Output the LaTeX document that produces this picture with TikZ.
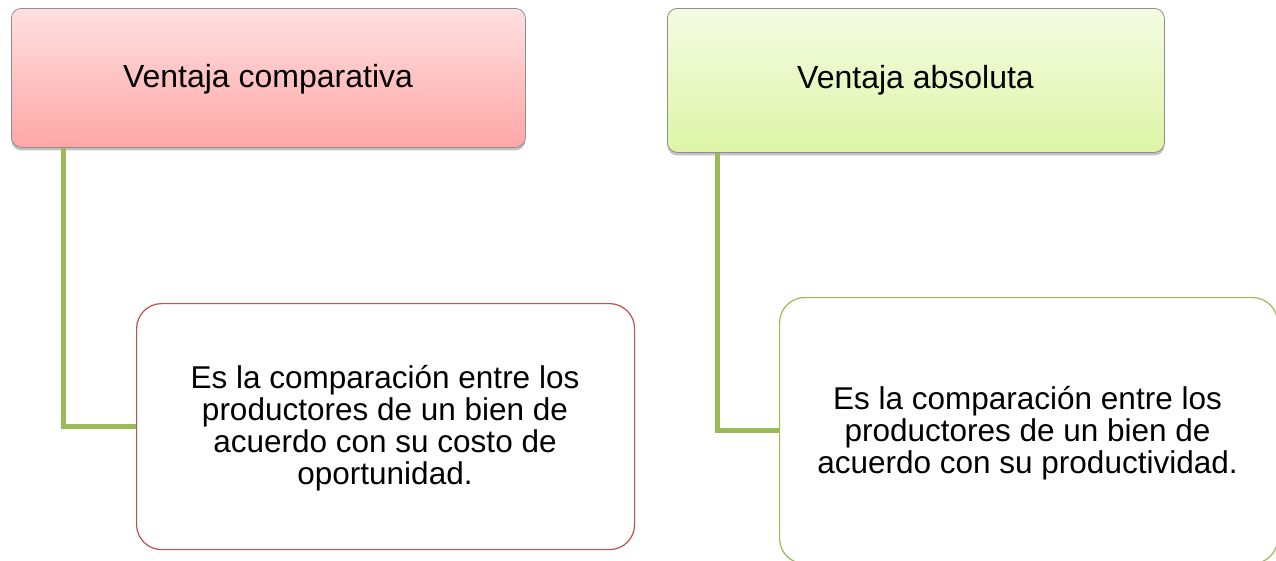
\documentclass[tikz,border=0pt]{standalone}
\usepackage{fontspec}
\setmainfont{Liberation Sans}
\usetikzlibrary{shadows}
\definecolor{conncol}{HTML}{9BBB59}
\definecolor{redtop}{HTML}{FFE0E0}
\definecolor{redbot}{HTML}{FFA6A6}
\definecolor{grntop}{HTML}{F5FBE3}
\definecolor{grnbot}{HTML}{DDF5A6}
\definecolor{redline}{HTML}{C0504D}
\definecolor{headline}{HTML}{8E8E8E}
\tikzset{
  head/.style={draw=headline, line width=0.8pt, rounded corners=10pt, anchor=north west,
    inner sep=0pt,
    drop shadow={shadow xshift=0pt, shadow yshift=-3pt, opacity=0.35, fill=black!70}},
  headtext/.style={anchor=base, inner sep=0pt, font=\fontsize{32}{36}\selectfont},
  body/.style={line width=1.2pt, rounded corners=25pt, anchor=north west, fill=white, inner sep=0pt},
  bodytext/.style={align=center, inner sep=0pt, font=\fontsize{31.5}{32}\selectfont},
  conn/.style={draw=conncol, line width=5pt}
}
\begin{document}
\begin{tikzpicture}[x=1pt,y=1pt]
\useasboundingbox (0,0) rectangle (1276,-560);
\clip (0,0) rectangle (1276,-560);
\node[head, top color=redtop, bottom color=redbot, minimum width=514pt, minimum height=139pt] (b1) at (11,-8) {};
\node[headtext] (h1) at (268,-87) {Ventaja comparativa};
\node[head, top color=grntop, bottom color=grnbot, minimum width=497pt, minimum height=144pt] (b2) at (667,-8) {};
\node[headtext] (h2) at (915.5,-88) {Ventaja absoluta};
\node[body, draw=redline, minimum width=498pt, minimum height=246pt] (b3) at (136,-303) {};
\node[body, draw=conncol, minimum width=498pt, minimum height=266pt] (b4) at (779,-297) {};
\draw[conn] ([xshift=52pt]b1.south west) |- (b3.west);
\draw[conn] ([xshift=50pt]b2.south west) |- (b4.west);
\node[bodytext] (t3) at (385,-428) {Es la comparación entre los\\productores de un bien de\\acuerdo con su costo de\\oportunidad.};
\node[bodytext] (t4) at (1027.5,-433) {Es la comparación entre los\\productores de un bien de\\acuerdo con su productividad.};
\end{tikzpicture}
\end{document}
